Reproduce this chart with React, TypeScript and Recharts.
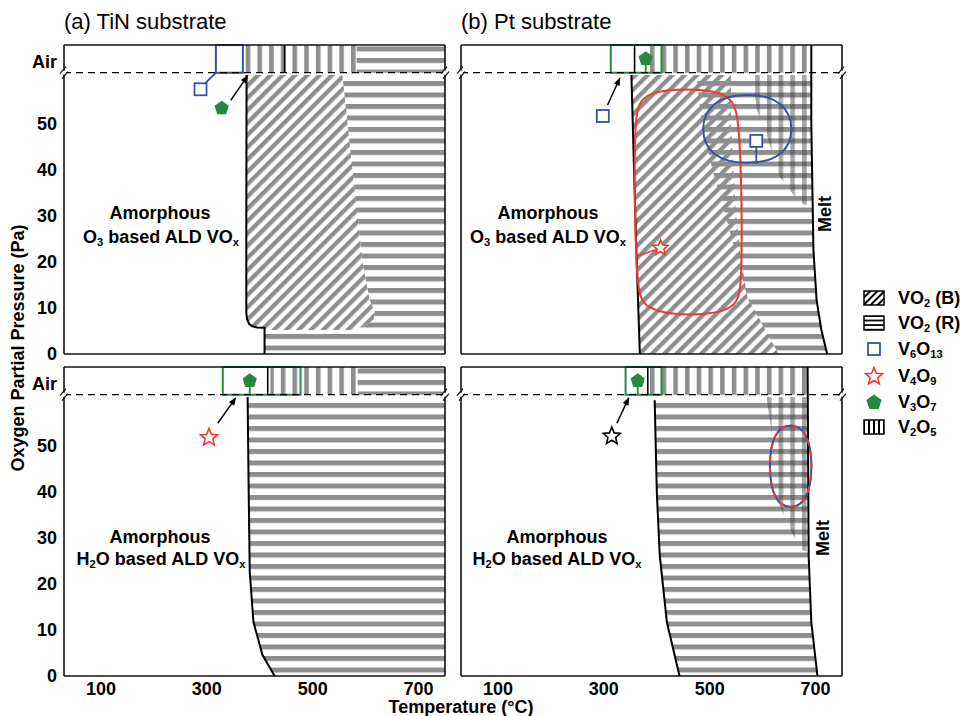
import React from 'react';
import { ComposedChart, XAxis, YAxis, Area, Line, Scatter, ReferenceLine, ReferenceArea } from 'recharts';

const FONT = '"Liberation Sans", Arial, Helvetica, sans-serif';
const GRAY = '#8e8e8e';
const BLUE = '#3552a8';
const RED = '#ec3a2f';
const GREEN = '#24883f';

const T_DOMAIN = [30, 750];
const P_DOMAIN = [0, 67];
const AIR_LINE = 61;
const PW = 381;
const PH = 309;

// axis ticks
const xLabelTicks = [100, 300, 500, 700];
const xMajorTicks = [50, 100, 150, 200, 250, 300, 350, 400, 450, 500, 550, 600, 650, 700];
const xMinorTicks = [75, 125, 175, 225, 275, 325, 375, 425, 475, 525, 575, 625, 675, 725];
const yLabelTicks = [0, 10, 20, 30, 40, 50, 63.5];
const yFrameTicks = [5, 10, 15, 20, 25, 30, 35, 40, 45, 50, 55, 60];

// (a) TiN, O3 based
const aEdge = [
  { p: 60.5, t: 375 }, { p: 30, t: 374.5 }, { p: 9, t: 374.5 }, { p: 7.5, t: 376 },
  { p: 6.5, t: 380 }, { p: 6, t: 386 }, { p: 5.75, t: 395 }, { p: 5.7, t: 409 }, { p: 0, t: 409 },
];
const aVO2B = [
  { p: 60.5, r: [375, 556] }, { p: 50, r: [374.5, 566] }, { p: 40, r: [374.5, 575] },
  { p: 30, r: [374.5, 585] }, { p: 20, r: [374.5, 594] }, { p: 12, r: [374.5, 607] },
  { p: 9, r: [374.5, 618] }, { p: 7.5, r: [376, 615] }, { p: 6.5, r: [380, 605] },
  { p: 6, r: [386, 592] }, { p: 5.7, r: [409, 585] }, { p: 5.2, r: [409, 580] },
];
const aVO2R = [
  { p: 60.5, r: [556, 750] }, { p: 50, r: [566, 750] }, { p: 40, r: [575, 750] },
  { p: 30, r: [585, 750] }, { p: 20, r: [594, 750] }, { p: 12, r: [607, 750] },
  { p: 9, r: [618, 750] }, { p: 7.5, r: [615, 750] }, { p: 6.5, r: [605, 750] },
  { p: 6, r: [592, 750] }, { p: 5.2, r: [580, 750] }, { p: 5.1, r: [409, 750] }, { p: 0, r: [409, 750] },
];
const aAirV2O5 = [{ p: 61, r: [372, 583] }, { p: 67, r: [372, 583] }];
const aAirVO2R = [{ p: 61, r: [583, 750] }, { p: 67, r: [583, 750] }];
const aSquares = [{ t: 288, p: 57.4 }];
const aPentagons = [{ t: 328, p: 53.3 }];
const aLink = [{ t: 296, p: 58.6 }, { t: 317, p: 61 }];
const aArrow = [{ t: 345, p: 55 }, { t: 377, p: 60.3 }];

// (b) Pt, O3 based
const bEdge = [{ p: 60.5, t: 352 }, { p: 40, t: 357 }, { p: 20, t: 362 }, { p: 0, t: 368 }];
const bMelt = [
  { p: 67, t: 692 }, { p: 50, t: 692 }, { p: 22.6, t: 696 }, { p: 11.7, t: 702 }, { p: 5.2, t: 711 }, { p: 0, t: 722 },
];
const bVO2B = [
  { p: 60.5, r: [352, 540] }, { p: 50, r: [354.5, 540] }, { p: 40, r: [357, 545] }, { p: 30, r: [359.5, 550] },
  { p: 20, r: [362, 560] }, { p: 12.5, r: [364, 571] }, { p: 0, r: [368, 630] },
];
const bVO2R = [
  { p: 60.5, r: [475, 692] }, { p: 50, r: [485, 692] }, { p: 40, r: [505, 693.5] }, { p: 30, r: [530, 695] },
  { p: 22.6, r: [547, 696] }, { p: 20, r: [552, 697] }, { p: 12.5, r: [571, 701.5] }, { p: 11.7, r: [573, 702] },
  { p: 5.2, r: [605, 711] }, { p: 0, r: [630, 722] },
];
const bV2O5 = [
  { p: 60.5, r: [580, 692] }, { p: 53, r: [589, 692] }, { p: 47, r: [609, 692] },
  { p: 38.5, r: [632, 693] }, { p: 32.8, r: [670, 694] }, { p: 32, r: [690, 694] },
];
const bAirV2O5 = [{ p: 61, r: [383, 692] }, { p: 67, r: [383, 692] }];
const bCapsule = [
  { t: 366.8, p: 56.0 }, { t: 420.6, p: 57.4 }, { t: 490.4, p: 57.4 }, { t: 544.2, p: 56.0 },
  { t: 558.3, p: 49.8 }, { t: 562.1, p: 16.1 }, { t: 553.6, p: 9.9 }, { t: 490.4, p: 8.5 },
  { t: 435.7, p: 8.5 }, { t: 372.5, p: 9.9 }, { t: 360.2, p: 15.4 }, { t: 356.4, p: 49.8 },
];
const bEllipse = [
  { t: 661, p: 48.8 }, { t: 640.7, p: 54.95 }, { t: 571, p: 56.75 }, { t: 501.3, p: 54.95 },
  { t: 481, p: 48.8 }, { t: 501.3, p: 42.65 }, { t: 571, p: 40.85 }, { t: 640.7, p: 42.65 },
];
const bSquares = [{ t: 298, p: 51.6 }, { t: 588, p: 46.2 }];
const bSquareStem = [{ t: 588, p: 44.8 }, { t: 588, p: 41.2 }];
const bPentagons = [{ t: 379, p: 64 }];
const bPentStem = [{ t: 379, p: 63 }, { t: 379, p: 61 }];
const bStars = [{ t: 407, p: 23 }];
const bStarLink = [{ t: 364, p: 21.3 }, { t: 398, p: 22.6 }];
const bArrow = [{ t: 307, p: 54 }, { t: 330, p: 59.8 }];

// (c) TiN, H2O based
const cEdge = [
  { p: 60.5, t: 377 }, { p: 40, t: 379 }, { p: 22.6, t: 381 }, { p: 11.7, t: 388 }, { p: 4.6, t: 405 }, { p: 0, t: 428 },
];
const cVO2R = [
  { p: 60.5, r: [377, 750] }, { p: 40, r: [379, 750] }, { p: 22.6, r: [381, 750] },
  { p: 11.7, r: [388, 750] }, { p: 4.6, r: [405, 750] }, { p: 0, r: [428, 750] },
];
const cAirV2O5 = [{ p: 61, r: [420, 585] }, { p: 67, r: [420, 585] }];
const cAirVO2R = [{ p: 61, r: [585, 750] }, { p: 67, r: [585, 750] }];
const cPentagons = [{ t: 381, p: 64 }];
const cPentStem = [{ t: 381, p: 63 }, { t: 381, p: 61 }];
const cStars = [{ t: 304, p: 51.7 }];
const cArrow = [{ t: 320.6, p: 54.8 }, { t: 354.5, p: 60.3 }];

// (d) Pt, H2O based
const dEdge = [{ p: 59.8, t: 396 }, { p: 40, t: 400 }, { p: 26.3, t: 405.5 }, { p: 11.7, t: 419 }, { p: 0, t: 443 }];
const dMelt = [{ p: 67, t: 685 }, { p: 26, t: 687 }, { p: 11.7, t: 692 }, { p: 0, t: 703.6 }];
const dVO2R = [
  { p: 59.8, r: [396, 685.5] }, { p: 40, r: [400, 686] }, { p: 26.3, r: [405.5, 687] },
  { p: 11.7, r: [419, 692] }, { p: 0, r: [443, 703.6] },
];
const dV2O5 = [
  { p: 60.5, r: [607, 685] }, { p: 54.6, r: [615, 685] }, { p: 37, r: [632, 686] },
  { p: 32, r: [651, 686] }, { p: 27.4, r: [673, 687] }, { p: 27, r: [684, 687] },
];
const dAirV2O5 = [{ p: 61, r: [387, 685] }, { p: 67, r: [387, 685] }];
const dEllipse = [
  { t: 695.4, p: 45.5 }, { t: 685.8, p: 52.88 }, { t: 653, p: 55.04 }, { t: 620.2, p: 52.88 },
  { t: 610.6, p: 45.5 }, { t: 620.2, p: 38.12 }, { t: 653, p: 35.96 }, { t: 685.8, p: 38.12 },
];
const dPentagons = [{ t: 364, p: 64 }];
const dPentStem = [{ t: 364, p: 63 }, { t: 364, p: 61 }];
const dStars = [{ t: 315, p: 52 }];
const dArrow = [{ t: 324.5, p: 54.8 }, { t: 347, p: 60.3 }];

const breakMarks = [{ t: 30, p: 61 }, { t: 750, p: 61 }];

const tickFont = { fontSize: 18, fontWeight: 700, fill: '#000', fontFamily: FONT };
const frameLine = { stroke: '#111', strokeWidth: 1.6 };
const tickStroke = { stroke: '#111', strokeWidth: 1.2 };

const squareShape = (color: string) => (props: any) => (
  <rect x={props.cx - 6} y={props.cy - 6} width={12} height={12} fill="#fff" stroke={color} strokeWidth={1.8} />
);

const starPoints = (cx: number, cy: number, ro: number, ri: number) =>
  Array.from({ length: 10 }, (_, i) => {
    const a = -Math.PI / 2 + (i * Math.PI) / 5;
    const r = i % 2 === 0 ? ro : ri;
    return `${cx + r * Math.cos(a)},${cy + r * Math.sin(a)}`;
  }).join(' ');

const starShape = (color: string, ro: number) => (props: any) => (
  <polygon points={starPoints(props.cx, props.cy, ro, ro * 0.45)} fill="#fff" stroke={color} strokeWidth={1.6} />
);

const pentPoints = (cx: number, cy: number, r: number) =>
  Array.from({ length: 5 }, (_, i) => {
    const a = -Math.PI / 2 + (i * 2 * Math.PI) / 5;
    return `${cx + r * Math.cos(a)},${cy + r * Math.sin(a)}`;
  }).join(' ');

const pentShape = (props: any) => <polygon points={pentPoints(props.cx, props.cy, 7.5)} fill={GREEN} />;

const breakShape = (props: any) => (
  <g stroke="#111" strokeWidth={1.2}>
    <rect x={props.cx - 2} y={props.cy - 2} width={4} height={4} fill="#fff" stroke="none" />
    <line x1={props.cx - 4} y1={props.cy + 1} x2={props.cx + 2} y2={props.cy - 6} />
    <line x1={props.cx - 2} y1={props.cy + 6} x2={props.cx + 4} y2={props.cy - 1} />
  </g>
);

const frameAxes = () => [
  <XAxis key="xb1" xAxisId="xb1" type="number" domain={T_DOMAIN} allowDataOverflow ticks={xMajorTicks} interval={0}
    orientation="bottom" mirror tick={false} tickSize={5} tickLine={tickStroke} axisLine={frameLine} />,
  <XAxis key="xb2" xAxisId="xb2" type="number" domain={T_DOMAIN} allowDataOverflow ticks={xMinorTicks} interval={0}
    orientation="bottom" mirror tick={false} tickSize={3} tickLine={tickStroke} axisLine={false} />,
  <XAxis key="xt1" xAxisId="xt1" type="number" domain={T_DOMAIN} allowDataOverflow ticks={xMajorTicks} interval={0}
    orientation="top" mirror tick={false} tickSize={5} tickLine={tickStroke} axisLine={frameLine} />,
  <XAxis key="xt2" xAxisId="xt2" type="number" domain={T_DOMAIN} allowDataOverflow ticks={xMinorTicks} interval={0}
    orientation="top" mirror tick={false} tickSize={3} tickLine={tickStroke} axisLine={false} />,
  <YAxis key="yl" yAxisId="yl" type="number" domain={P_DOMAIN} allowDataOverflow reversed ticks={yFrameTicks} interval={0}
    orientation="left" mirror tick={false} tickSize={5} tickLine={tickStroke} axisLine={frameLine} />,
  <YAxis key="yr" yAxisId="yr" type="number" domain={P_DOMAIN} allowDataOverflow reversed ticks={yFrameTicks} interval={0}
    orientation="right" mirror tick={false} tickSize={5} tickLine={tickStroke} axisLine={frameLine} />,
];

const region = (key: string, data: any[], fill: string) => (
  <Area key={key} data={data} dataKey="r" type="linear" stroke="none" fill={fill} fillOpacity={1}
    dot={false} activeDot={false} isAnimationActive={false} />
);

const curve = (key: string, data: any[], extra: any = {}) => (
  <Line key={key} data={data} dataKey="t" type="linear" stroke="#000" strokeWidth={2} dot={false}
    activeDot={false} isAnimationActive={false} {...extra} />
);

const arrow = (key: string, data: any[]) =>
  curve(key, data, { strokeWidth: 1.5, markerEnd: 'url(#arrowHead)' });

const airLine = (key: string, t: number) => (
  <ReferenceLine key={key} segment={[{ x: t, y: AIR_LINE }, { x: t, y: 67 }]} stroke="#000" strokeWidth={1.6} />
);

const airBox = (key: string, x1: number, x2: number, color: string) => (
  <ReferenceArea key={key} x1={x1} x2={x2} y1={AIR_LINE} y2={67} fill="none" fillOpacity={0}
    stroke={color} strokeWidth={2} ifOverflow="visible" />
);

function Panel({ x, y, showX, showY, children }: any) {
  const lead = showY ? 64 : 10;
  const width = lead + PW + 8;
  const height = 10 + PH + (showX ? 32 : 14);
  return (
    <div style={{ position: 'absolute', left: x - lead, top: y - 10 }}>
      <ComposedChart layout="vertical" width={width} height={height}
        margin={{ top: 10, right: 8, left: showY ? 0 : 10, bottom: showX ? 0 : 14 }}>
        <XAxis dataKey="t" type="number" domain={T_DOMAIN} ticks={xLabelTicks} interval={0} hide={!showX}
          height={32} tickSize={0} tickMargin={6} axisLine={false} tickLine={false} tick={tickFont} />
        <YAxis dataKey="p" type="number" domain={P_DOMAIN} reversed ticks={yLabelTicks} interval={0} hide={!showY}
          width={64} tickSize={0} tickMargin={7} axisLine={false} tickLine={false} tick={tickFont}
          tickFormatter={(v: number) => (v > 60 ? 'Air' : String(v))} />
        {frameAxes()}
        {children}
        <ReferenceLine y={AIR_LINE} stroke="#000" strokeWidth={1.4} strokeDasharray="7 5" />
        <Scatter data={breakMarks} shape={breakShape} isAnimationActive={false} />
      </ComposedChart>
    </div>
  );
}

const Sub = ({ children }: any) => (
  <span style={{ fontSize: '0.62em', verticalAlign: '-0.3em', lineHeight: 0 }}>{children}</span>
);

function Txt({ x, y, size = 18, bold = true, rotate = 0, anchor = 'center', children }: any) {
  const tx = anchor === 'center' ? '-50%' : '0';
  return (
    <div style={{
      position: 'absolute', left: x, top: y, fontSize: size, fontWeight: bold ? 700 : 400, lineHeight: 1,
      whiteSpace: 'nowrap', transform: `translate(${tx}, -50%) rotate(${rotate}deg)`, fontFamily: FONT, color: '#000',
    }}>
      {children}
    </div>
  );
}

function Swatch({ fill }: any) {
  return (
    <svg width={22} height={16}>
      <rect x={1} y={1} width={20} height={14} fill={fill} stroke="#000" strokeWidth={1.5} />
    </svg>
  );
}

function Legend() {
  const row = (top: number, icon: React.ReactNode, label: React.ReactNode) => (
    <div style={{ position: 'absolute', left: 862, top: top - 9, height: 18, display: 'flex', alignItems: 'center', whiteSpace: 'nowrap' }}>
      <div style={{ width: 24, display: 'flex', justifyContent: 'center' }}>{icon}</div>
      <div style={{ marginLeft: 12, fontSize: 18, fontWeight: 700, fontFamily: FONT, lineHeight: 1, whiteSpace: 'nowrap' }}>{label}</div>
    </div>
  );
  return (
    <>
      {row(298, <Swatch fill="url(#legB)" />, <span>VO<Sub>2</Sub> (B)</span>)}
      {row(323, <Swatch fill="url(#legR)" />, <span>VO<Sub>2</Sub> (R)</span>)}
      {row(349, <svg width={14} height={14}><rect x={1} y={1} width={12} height={12} fill="#fff" stroke={BLUE} strokeWidth={1.8} /></svg>,
        <span>V<Sub>6</Sub>O<Sub>13</Sub></span>)}
      {row(376, <svg width={20} height={20}><polygon points={starPoints(10, 10.5, 9, 4)} fill="#fff" stroke={RED} strokeWidth={1.6} /></svg>,
        <span>V<Sub>4</Sub>O<Sub>9</Sub></span>)}
      {row(402, <svg width={18} height={18}><polygon points={pentPoints(9, 9.5, 8)} fill={GREEN} /></svg>,
        <span>V<Sub>3</Sub>O<Sub>7</Sub></span>)}
      {row(427, <Swatch fill="url(#legV)" />, <span>V<Sub>2</Sub>O<Sub>5</Sub></span>)}
    </>
  );
}

export default function App() {
  return (
    <div style={{ position: 'absolute', left: 0, top: 0, width: 960, height: 716, background: '#fff', fontFamily: FONT, overflow: 'hidden' }}>
      <svg width={0} height={0} style={{ position: 'absolute' }}>
        <defs>
          <pattern id="hatchB" patternUnits="userSpaceOnUse" width={8.7} height={8.7} patternTransform="rotate(-45)">
            <rect x={0} y={0} width={8.7} height={4.3} fill={GRAY} />
          </pattern>
          <pattern id="hatchR" patternUnits="userSpaceOnUse" width={12} height={11.5}>
            <rect x={0} y={0} width={12} height={5} fill={GRAY} />
          </pattern>
          <pattern id="hatchV" patternUnits="userSpaceOnUse" width={11.7} height={12}>
            <rect x={0} y={0} width={4.6} height={12} fill={GRAY} />
          </pattern>
          <pattern id="hatchVd" patternUnits="userSpaceOnUse" width={11.7} height={12}>
            <rect x={0} y={0} width={4.6} height={12} fill="#3a3a3a" fillOpacity={0.45} />
          </pattern>
          <pattern id="legB" patternUnits="userSpaceOnUse" width={5} height={5} patternTransform="rotate(-45)">
            <rect x={0} y={0} width={5} height={2} fill="#000" />
          </pattern>
          <pattern id="legR" patternUnits="userSpaceOnUse" width={6} height={4.6}>
            <rect x={0} y={0} width={6} height={1.8} fill="#000" />
          </pattern>
          <pattern id="legV" patternUnits="userSpaceOnUse" width={5} height={6}>
            <rect x={0} y={0} width={2} height={6} fill="#000" />
          </pattern>
          <marker id="arrowHead" viewBox="0 0 10 10" refX={9} refY={5} markerWidth={9} markerHeight={8}
            markerUnits="userSpaceOnUse" orient="auto">
            <path d="M0,1 L10,5 L0,9 z" fill="#000" />
          </marker>
        </defs>
      </svg>

      <Txt x={64} y={22} size={22} bold={false} anchor="left">(a) TiN substrate</Txt>
      <Txt x={461} y={22} size={22} bold={false} anchor="left">(b) Pt substrate</Txt>

      <Panel x={64} y={45} showY>
        {region('a1', aVO2B, 'url(#hatchB)')}
        {region('a2', aVO2R, 'url(#hatchR)')}
        {region('a3', aAirV2O5, 'url(#hatchV)')}
        {region('a4', aAirVO2R, 'url(#hatchR)')}
        {curve('a5', aEdge)}
        {airLine('a6', 447)}
        {airBox('a7', 317, 368, BLUE)}
        {curve('a8', aLink, { stroke: BLUE, strokeWidth: 1.8 })}
        {arrow('a9', aArrow)}
        <Scatter data={aSquares} shape={squareShape(BLUE)} isAnimationActive={false} />
        <Scatter data={aPentagons} shape={pentShape} isAnimationActive={false} />
      </Panel>

      <Panel x={461} y={45}>
        {region('b1', bVO2B, 'url(#hatchB)')}
        {region('b2', bVO2R, 'url(#hatchR)')}
        {region('b3', bV2O5, 'url(#hatchVd)')}
        {region('b4', bAirV2O5, 'url(#hatchV)')}
        {curve('b5', bEdge)}
        {curve('b6', bMelt)}
        {airLine('b7', 358)}
        {airBox('b8', 313, 409, GREEN)}
        {curve('b9', bCapsule, { stroke: RED, strokeWidth: 2, type: 'basisClosed' })}
        {curve('b10', bEllipse, { stroke: BLUE, strokeWidth: 2, type: 'basisClosed' })}
        {curve('b11', bSquareStem, { stroke: BLUE, strokeWidth: 1.8 })}
        {curve('b12', bPentStem, { stroke: GREEN, strokeWidth: 1.8 })}
        {curve('b13', bStarLink, { stroke: RED, strokeWidth: 1.8 })}
        {arrow('b14', bArrow)}
        <Scatter data={bSquares} shape={squareShape(BLUE)} isAnimationActive={false} />
        <Scatter data={bPentagons} shape={pentShape} isAnimationActive={false} />
        <Scatter data={bStars} shape={starShape(RED, 8)} isAnimationActive={false} />
      </Panel>

      <Panel x={64} y={367} showY showX>
        {region('c1', cVO2R, 'url(#hatchR)')}
        {region('c2', cAirV2O5, 'url(#hatchV)')}
        {region('c3', cAirVO2R, 'url(#hatchR)')}
        {curve('c4', cEdge)}
        {airLine('c5', 415)}
        {airBox('c6', 330, 477, GREEN)}
        {curve('c7', cPentStem, { stroke: GREEN, strokeWidth: 1.8 })}
        {arrow('c8', cArrow)}
        <Scatter data={cPentagons} shape={pentShape} isAnimationActive={false} />
        <Scatter data={cStars} shape={starShape(RED, 9)} isAnimationActive={false} />
      </Panel>

      <Panel x={461} y={367} showX>
        {region('d1', dVO2R, 'url(#hatchR)')}
        {region('d2', dV2O5, 'url(#hatchVd)')}
        {region('d3', dAirV2O5, 'url(#hatchV)')}
        {curve('d4', dEdge)}
        {curve('d5', dMelt)}
        {airLine('d6', 383)}
        {airBox('d7', 341, 409, GREEN)}
        {curve('d8', dEllipse, { stroke: BLUE, strokeWidth: 2, type: 'basisClosed' })}
        {curve('d9', dEllipse, { stroke: RED, strokeWidth: 2, type: 'basisClosed', strokeDasharray: '6 6' })}
        {curve('d10', dPentStem, { stroke: GREEN, strokeWidth: 1.8 })}
        {arrow('d11', dArrow)}
        <Scatter data={dPentagons} shape={pentShape} isAnimationActive={false} />
        <Scatter data={dStars} shape={starShape('#000', 9)} isAnimationActive={false} />
      </Panel>

      <Txt x={160} y={213}>Amorphous</Txt>
      <Txt x={161} y={237}>O<Sub>3</Sub> based ALD VO<Sub>x</Sub></Txt>
      <Txt x={548} y={213}>Amorphous</Txt>
      <Txt x={548} y={237}>O<Sub>3</Sub> based ALD VO<Sub>x</Sub></Txt>
      <Txt x={160} y={537}>Amorphous</Txt>
      <Txt x={161} y={559}>H<Sub>2</Sub>O based ALD VO<Sub>x</Sub></Txt>
      <Txt x={557} y={537}>Amorphous</Txt>
      <Txt x={557} y={559}>H<Sub>2</Sub>O based ALD VO<Sub>x</Sub></Txt>

      <Txt x={825} y={214} rotate={-90}>Melt</Txt>
      <Txt x={823} y={538} rotate={-90}>Melt</Txt>

      <Txt x={18} y={348} rotate={-90}>Oxygen Partial Pressure (Pa)</Txt>
      <Txt x={461} y={707}>Temperature (°C)</Txt>

      <Legend />
    </div>
  );
}
